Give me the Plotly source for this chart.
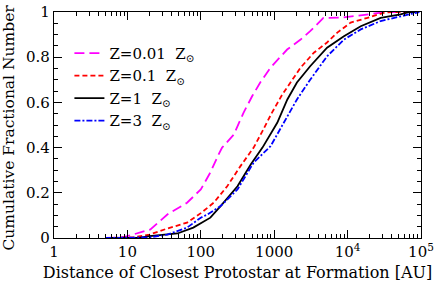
import plotly.graph_objects as go

# Distances (AU) and cumulative fractions
x_z001 = [5, 8, 10, 20.6, 35, 65, 100, 135, 175, 195, 282, 383, 500, 645, 890, 1500, 2290, 3090, 4680, 8000, 15000, 33000, 60000]
y_z001 = [0, 0.002, 0.008, 0.038, 0.104, 0.156, 0.215, 0.29, 0.37, 0.40, 0.458, 0.555, 0.627, 0.688, 0.754, 0.834, 0.878, 0.915, 0.974, 0.975, 0.985, 1.0, 1.0]

x_z01 = [5, 12, 20, 35, 65, 100, 151, 229, 347, 525, 692, 933, 1290, 1760, 2290, 3470, 5250, 7240, 11000, 18600, 30900, 40000, 90000]
y_z01 = [0, 0.003, 0.015, 0.042, 0.068, 0.11, 0.157, 0.229, 0.318, 0.40, 0.473, 0.555, 0.635, 0.701, 0.754, 0.82, 0.865, 0.909, 0.953, 0.974, 0.996, 1.0, 1.0]

x_z1 = [5, 15, 20, 48, 79, 100, 135, 186, 316, 479, 692, 1100, 1510, 2040, 3090, 5250, 8910, 15100, 28200, 52500, 70000, 90000]
y_z1 = [0, 0.002, 0.008, 0.02, 0.046, 0.065, 0.09, 0.141, 0.229, 0.325, 0.40, 0.51, 0.613, 0.688, 0.76, 0.842, 0.893, 0.937, 0.974, 0.989, 1.0, 1.0]

x_z3 = [5, 20, 35, 65, 100, 123, 186, 316, 525, 891, 1350, 2040, 3090, 5250, 8910, 15100, 28200, 52500, 79400, 95000]
y_z3 = [0, 0.003, 0.015, 0.046, 0.09, 0.104, 0.141, 0.215, 0.334, 0.406, 0.51, 0.613, 0.70, 0.804, 0.878, 0.923, 0.96, 0.98, 0.996, 1.0]

names = ["Z=0.01  Z<sub>⊙</sub>", "Z=0.1  Z<sub>⊙</sub>", "Z=1  Z<sub>⊙</sub>", "Z=3  Z<sub>⊙</sub>"]
colors = ["#ff00ff", "#ff0000", "#000000", "#0000ff"]
dashes = ["10px,5px", "5px,3px", "solid", "6px,2px,2px,2px"]

xtick_vals = [1, 10, 100, 1000, 10000, 100000]
xtick_text = ["1", "10", "100", "1000", "10<sup>4</sup>", "10<sup>5</sup>"]
ytick_vals = [0, 0.2, 0.4, 0.6, 0.8, 1]
ytick_text = ["0", "0.2", "0.4", "0.6", "0.8", "1"]

font_family = "DejaVu Serif"

fig = go.Figure()
for xs, ys, n, c, d in zip([x_z001, x_z01, x_z1, x_z3], [y_z001, y_z01, y_z1, y_z3], names, colors, dashes):
    fig.add_trace(go.Scatter(x=xs, y=ys, mode="lines", name=n,
                             line=dict(color=c, width=1.8, dash=d)))

fig.update_layout(
    width=436, height=284,
    margin=dict(l=54, r=15, t=12, b=46, autoexpand=False),
    paper_bgcolor="white", plot_bgcolor="white",
    font=dict(family=font_family, size=15, color="black"),
    showlegend=True,
    legend=dict(x=0.042, y=0.89, xanchor="left", yanchor="top",
                bgcolor="rgba(0,0,0,0)", font=dict(size=15),
                tracegroupgap=0, itemwidth=30),
    annotations=[dict(text="Cumulative Fractional Number", textangle=-90,
                      xref="paper", yref="paper", x=-0.122, y=0.49,
                      xanchor="center", yanchor="middle", showarrow=False,
                      font=dict(size=15.5))],
)
fig.update_xaxes(
    type="log", range=[0, 5], automargin=False,
    tickvals=xtick_vals, ticktext=xtick_text,
    ticks="inside", ticklen=8, tickwidth=1, tickcolor="black",
    showline=True, linecolor="black", linewidth=1.2, mirror="ticks",
    showgrid=False, zeroline=False,
    minor=dict(ticks="inside", ticklen=4, tickcolor="black", dtick="D1", showgrid=False),
    title=dict(text="Distance of Closest Protostar at Formation [AU]", font=dict(size=16), standoff=6),
)
fig.update_yaxes(
    range=[0, 1], automargin=False,
    tickvals=ytick_vals, ticktext=ytick_text,
    ticks="inside", ticklen=8, tickwidth=1, tickcolor="black",
    showline=True, linecolor="black", linewidth=1.2, mirror="ticks",
    showgrid=False, zeroline=False,
    minor=dict(ticks="inside", ticklen=4, tickcolor="black", dtick=0.05, showgrid=False),
)

fig.write_html("out.html", config={"displayModeBar": False},
               post_script="document.body.style.margin='0';")
